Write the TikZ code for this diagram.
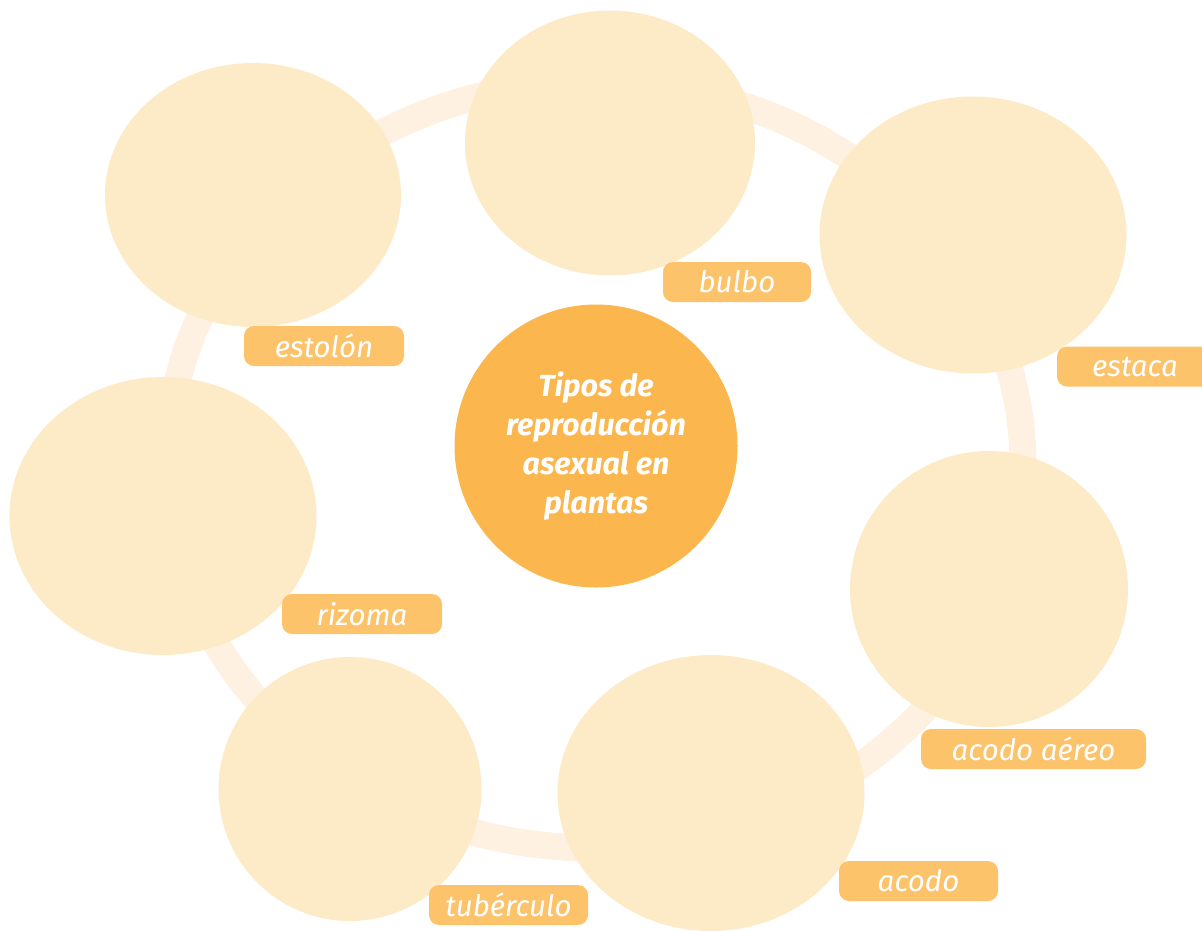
\documentclass[tikz,border=0pt]{standalone}
\usepackage{fontspec}
\setmainfont{Fira Sans}
\usetikzlibrary{shapes.geometric}
\definecolor{ringcol}{HTML}{FEF1E1}
\definecolor{circcol}{HTML}{FDEBC8}
\definecolor{labcol}{HTML}{FDC36B}
\definecolor{maincol}{HTML}{FBB64D}
\tikzset{
  bubble/.style={ellipse, fill=circcol, inner sep=0pt},
  tag/.style={rectangle, rounded corners=10pt, fill=labcol, text=white, inner sep=0pt,
    minimum height=40pt, font=\fontsize{29.5}{32}\selectfont\itshape},
  hub/.style={circle, fill=maincol, text=white, inner sep=0pt, minimum size=283pt, align=center,
    font=\fontsize{30.5}{38.7}\selectfont\bfseries\itshape},
  loop/.style={ellipse, draw=ringcol, line width=27pt, inner sep=0pt}
}
\begin{document}
\begin{tikzpicture}[x=1pt,y=-1pt]
\useasboundingbox (0,0) rectangle (1202,930);
% ring
\node[loop, minimum width=856pt, minimum height=766pt] (ring) at (595,465) {};
% bubbles
\node[bubble, minimum width=296pt, minimum height=264pt] (b1) at (253,195) {};
\node[bubble, minimum width=290pt, minimum height=265pt] (b2) at (610,143) {};
\node[bubble, minimum width=307pt, minimum height=277pt] (b3) at (973,235) {};
\node[bubble, minimum width=307pt, minimum height=278pt] (b4) at (163,516) {};
\node[bubble, minimum width=278pt, minimum height=276pt] (b5) at (989,589) {};
\node[bubble, minimum width=307pt, minimum height=276pt] (b6) at (711,793) {};
\node[bubble, minimum width=263pt, minimum height=264pt] (b7) at (350,789) {};
% hub
\node[hub] (hub) at (596,446) {Tipos de\\reproducción\\asexual en\\plantas};
% labels
\node[tag, minimum width=148pt] (l2) at (737,282) {bulbo};
\node[tag, minimum width=160pt] (l1) at (324,346) {estolón};
\node[tag, minimum width=156pt] (l3) at (1135,366.5) {estaca};
\node[tag, minimum width=160pt] (l4) at (362,614) {rizoma};
\node[tag, minimum width=225pt] (l5) at (1033.5,749) {acodo aéreo};
\node[tag, minimum width=159pt] (l6) at (918.5,881) {acodo};
\node[tag, minimum width=159pt] (l7) at (508.5,905) {tubérculo};
\end{tikzpicture}
\end{document}
